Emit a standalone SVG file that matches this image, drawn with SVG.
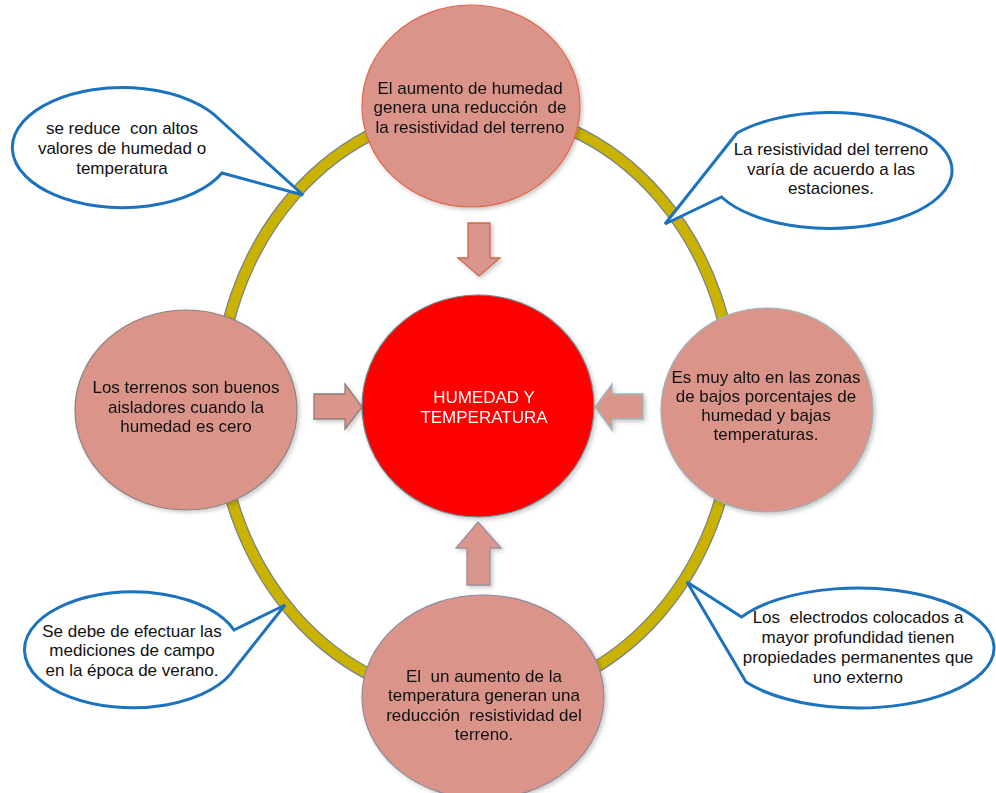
<svg xmlns="http://www.w3.org/2000/svg" width="996" height="793" viewBox="0 0 996 793">
  <style>
    .t { font-family: "Liberation Sans", Arial, sans-serif; font-size: 17px; fill: #111; text-anchor: middle; white-space: pre; }
    .tc { font-family: "Liberation Sans", Arial, sans-serif; font-size: 17px; fill: #ffffff; text-anchor: middle; }
    .node { fill: #DA948A; stroke-width: 1.2; }
    .callout { fill: #ffffff; stroke: #1B72BE; stroke-width: 3; stroke-linejoin: miter; }
    .arrow { fill: #DA968D; stroke-width: 1.3; }
  </style>
  <defs>
    <filter id="shadow" x="-20%" y="-20%" width="140%" height="140%">
      <feDropShadow dx="2" dy="2" stdDeviation="2" flood-color="#000" flood-opacity="0.22"/>
    </filter>
  </defs>
  <rect width="996" height="793" fill="#ffffff"/>

  <!-- connectors: the ring joining the outer nodes -->
  <g id="connectors">
    <ellipse cx="476" cy="405" rx="258" ry="296" fill="none" stroke="#7B8088" stroke-width="12.5"/>
    <ellipse cx="476" cy="405" rx="258" ry="296" fill="none" stroke="#C9B300" stroke-width="10"/>
  </g>

  <!-- speech-bubble notes -->
  <g id="note-top-left">
    <path class="callout" d="M 220,120 L 303,195 L 222,173 A 110 60 0 1 1 220,120 Z"/>
    <text class="t" x="122" y="134">se reduce  con altos</text>
    <text class="t" x="122" y="154">valores de humedad o</text>
    <text class="t" x="122" y="174">temperatura</text>
  </g>
  <g id="note-top-right">
    <path class="callout" d="M 737,133 L 665,224 L 721.5,197 A 122 58 0 1 0 737,133 Z"/>
    <text class="t" x="831" y="155">La resistividad del terreno</text>
    <text class="t" x="831" y="175">varía de acuerdo a las</text>
    <text class="t" x="831" y="194">estaciones.</text>
  </g>
  <g id="note-bottom-left">
    <path class="callout" d="M 234,630 L 285,605 L 235,668 A 108 58 0 1 1 234,630 Z"/>
    <text class="t" x="132" y="637">Se debe de efectuar las</text>
    <text class="t" x="132" y="656">mediciones de campo</text>
    <text class="t" x="132" y="676">en la época de verano.</text>
  </g>
  <g id="note-bottom-right">
    <path class="callout" d="M 741.6,617 L 687,582 L 746,682 A 136 60 0 1 0 741.6,617 Z"/>
    <text class="t" x="858" y="623">Los  electrodos colocados a</text>
    <text class="t" x="858" y="643">mayor profundidad tienen</text>
    <text class="t" x="858" y="663">propiedades permanentes que</text>
    <text class="t" x="858" y="683">uno externo</text>
  </g>

  <!-- outer nodes -->
  <g id="node-top" filter="url(#shadow)">
    <ellipse class="node" cx="471" cy="106" rx="109" ry="101" stroke="#E0694C"/>
    <text class="t" x="470" y="94">El aumento de humedad</text>
    <text class="t" x="470" y="113">genera una reducción  de</text>
    <text class="t" x="470" y="133">la resistividad del terreno</text>
  </g>
  <g id="node-left" filter="url(#shadow)">
    <ellipse class="node" cx="186" cy="410" rx="111" ry="100" stroke="#8A8580"/>
    <text class="t" x="186" y="393">Los terrenos son buenos</text>
    <text class="t" x="186" y="413">aisladores cuando la</text>
    <text class="t" x="186" y="432">humedad es cero</text>
  </g>
  <g id="node-right" filter="url(#shadow)">
    <ellipse class="node" cx="767" cy="410" rx="106" ry="102" stroke="#9AB4B9"/>
    <text class="t" x="766" y="383">Es muy alto en las zonas</text>
    <text class="t" x="766" y="402">de bajos porcentajes de</text>
    <text class="t" x="766" y="421">humedad y bajas</text>
    <text class="t" x="766" y="440">temperaturas.</text>
  </g>
  <g id="node-bottom" filter="url(#shadow)">
    <ellipse class="node" cx="483" cy="697" rx="121" ry="102" stroke="#8E8A9C"/>
    <text class="t" x="484" y="682">El  un aumento de la</text>
    <text class="t" x="484" y="701">temperatura generan una</text>
    <text class="t" x="484" y="721">reducción  resistividad del</text>
    <text class="t" x="484" y="740">terreno.</text>
  </g>

  <!-- central node -->
  <g id="node-center" filter="url(#shadow)">
    <ellipse cx="478" cy="406" rx="116" ry="111" fill="#FF0000" stroke="#6F8A92" stroke-width="1.2"/>
    <text class="tc" x="484" y="403">HUMEDAD Y</text>
    <text class="tc" x="484" y="423">TEMPERATURA</text>
  </g>

  <!-- block arrows pointing at the centre -->
  <g id="arrow-top" filter="url(#shadow)">
    <path class="arrow" stroke="#D0654A" d="M 468,223 L 490,223 L 490,258 L 500,258 L 479,276 L 458,258 L 468,258 Z"/>
  </g>
  <g id="arrow-left" filter="url(#shadow)">
    <path class="arrow" stroke="#8A7D75" d="M 314,394 L 345,394 L 345,384 L 362,407 L 345,429 L 345,419 L 314,419 Z"/>
  </g>
  <g id="arrow-right" filter="url(#shadow)">
    <path class="arrow" stroke="#9BB8BC" d="M 643,394 L 612,394 L 612,384 L 595,407 L 612,430 L 612,419 L 643,419 Z"/>
  </g>
  <g id="arrow-bottom" filter="url(#shadow)">
    <path class="arrow" stroke="#9A8E9E" d="M 467,585 L 490,585 L 490,548 L 501,548 L 478,522 L 456,548 L 467,548 Z"/>
  </g>
</svg>
